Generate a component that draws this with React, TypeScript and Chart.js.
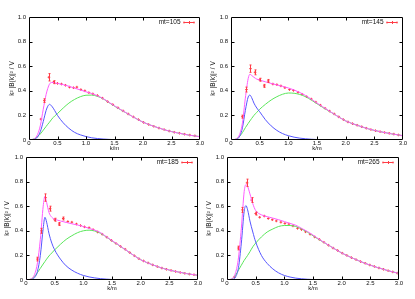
import React, { useEffect, useRef } from "react";
import { Chart, registerables } from "chart.js";

Chart.register(...registerables);

const FONT = '"Liberation Sans", Arial, Helvetica, sans-serif';
Chart.defaults.font.family = FONT;

// ---- axes ----
const X_TICKS = [0, 0.5, 1, 1.5, 2, 2.5, 3];
const Y_TICKS = [0, 0.2, 0.4, 0.6, 0.8, 1];
const X_TITLE = "k/m";
const Y_TITLE = "k² |B(k)|² / V";
const LABELS = ["mt=105", "mt=145", "mt=185", "mt=265"];

// momentum grid for the curves
const K = [0, 0.1, 0.15, 0.2, 0.25, 0.3, 0.33, 0.36, 0.4, 0.45, 0.5, 0.6, 0.7, 0.8, 0.9, 1.0, 1.1, 1.2, 1.3, 1.4, 1.5, 1.6, 1.8, 2.0, 2.2, 2.4, 2.6, 2.8, 3.0];

// ---- mt = 105 ----
const BLUE_105 = [0, 0.005, 0.025, 0.07, 0.15, 0.24, 0.275, 0.29, 0.275, 0.24, 0.2, 0.14, 0.095, 0.062, 0.042, 0.028, 0.018, 0.012, 0.008, 0.005, 0.003, 0.002];
const GREEN_105 = [0, 0.01, 0.027, 0.05, 0.08, 0.11, 0.128, 0.145, 0.17, 0.195, 0.215, 0.26, 0.3, 0.33, 0.352, 0.364, 0.365, 0.355, 0.335, 0.305, 0.275, 0.248, 0.195, 0.145, 0.11, 0.08, 0.058, 0.04, 0.027];
const FIT_105 = [0, 0.012, 0.045, 0.12, 0.25, 0.37, 0.42, 0.455, 0.468, 0.465, 0.46, 0.45, 0.437, 0.422, 0.407, 0.392, 0.378, 0.36, 0.337, 0.307, 0.278, 0.25, 0.195, 0.145, 0.11, 0.08, 0.058, 0.04, 0.027];
const KP_105 = [0.21, 0.27, 0.35, 0.43, 0.5, 0.57, 0.64, 0.71, 0.78, 0.84, 0.91, 0.98, 1.05, 1.12, 1.2, 1.29, 1.38, 1.47, 1.56, 1.65, 1.74, 1.83, 1.92, 2.01, 2.1, 2.19, 2.28, 2.37, 2.46, 2.55, 2.64, 2.73, 2.82, 2.91, 3.0];
const VP_105 = [0.17, 0.32, 0.51, 0.47, 0.46, 0.455, 0.445, 0.43, 0.425, 0.43, 0.41, 0.4, 0.385, 0.375, 0.362, 0.34, 0.312, 0.288, 0.262, 0.237, 0.212, 0.188, 0.166, 0.143, 0.126, 0.111, 0.097, 0.085, 0.073, 0.063, 0.055, 0.047, 0.04, 0.034, 0.028];
const EP_105 = [0.01, 0.015, 0.03, 0.012, 0.01, 0.008, 0.008, 0.008, 0.007, 0.008, 0.007, 0.006, 0.006, 0.006, 0.005, 0.005, 0.005, 0.005, 0.004, 0.004, 0.004, 0.004, 0.003, 0.003, 0.003, 0.003, 0.003, 0.003, 0.002, 0.002, 0.002, 0.002, 0.002, 0.002, 0.002];

// ---- mt = 145 ----
const BLUE_145 = [0, 0.005, 0.03, 0.1, 0.24, 0.35, 0.365, 0.345, 0.3, 0.26, 0.23, 0.165, 0.115, 0.078, 0.052, 0.035, 0.023, 0.015, 0.01, 0.006, 0.004, 0.002];
const GREEN_145 = [0, 0.01, 0.03, 0.06, 0.1, 0.135, 0.155, 0.175, 0.2, 0.225, 0.25, 0.29, 0.325, 0.352, 0.372, 0.382, 0.38, 0.37, 0.352, 0.325, 0.295, 0.265, 0.21, 0.155, 0.12, 0.09, 0.068, 0.05, 0.035];
const FIT_145 = [0, 0.012, 0.045, 0.14, 0.34, 0.5, 0.535, 0.525, 0.51, 0.495, 0.487, 0.473, 0.46, 0.448, 0.436, 0.423, 0.407, 0.386, 0.362, 0.332, 0.3, 0.27, 0.21, 0.155, 0.12, 0.09, 0.068, 0.05, 0.035];
const KP_145 = [0.2, 0.27, 0.34, 0.42, 0.5, 0.58, 0.65, 0.73, 0.8, 0.87, 0.94, 1.02, 1.09, 1.17, 1.24, 1.32, 1.4, 1.48, 1.56, 1.64, 1.72, 1.8, 1.88, 1.96, 2.04, 2.12, 2.2, 2.28, 2.36, 2.44, 2.52, 2.6, 2.68, 2.76, 2.84, 2.92, 3.0];
const VP_145 = [0.19, 0.41, 0.58, 0.55, 0.49, 0.44, 0.48, 0.455, 0.45, 0.44, 0.425, 0.41, 0.403, 0.388, 0.372, 0.352, 0.333, 0.308, 0.283, 0.258, 0.235, 0.212, 0.188, 0.166, 0.147, 0.133, 0.12, 0.108, 0.096, 0.085, 0.076, 0.068, 0.061, 0.054, 0.048, 0.041, 0.035];
const EP_145 = [0.012, 0.02, 0.03, 0.02, 0.012, 0.012, 0.012, 0.008, 0.008, 0.007, 0.007, 0.006, 0.006, 0.006, 0.006, 0.006, 0.005, 0.005, 0.005, 0.004, 0.004, 0.004, 0.004, 0.003, 0.003, 0.003, 0.003, 0.003, 0.003, 0.002, 0.002, 0.002, 0.002, 0.002, 0.002, 0.002, 0.002];

// ---- mt = 185 ----
const BLUE_185 = [0, 0.004, 0.02, 0.07, 0.2, 0.42, 0.51, 0.47, 0.38, 0.3, 0.245, 0.17, 0.115, 0.08, 0.055, 0.037, 0.025, 0.017, 0.011, 0.007, 0.004, 0.002];
const GREEN_185 = [0, 0.01, 0.03, 0.06, 0.095, 0.13, 0.15, 0.17, 0.195, 0.22, 0.245, 0.29, 0.33, 0.36, 0.385, 0.4, 0.405, 0.398, 0.38, 0.35, 0.318, 0.288, 0.225, 0.165, 0.125, 0.093, 0.07, 0.052, 0.038];
const FIT_185 = [0, 0.012, 0.045, 0.14, 0.33, 0.6, 0.68, 0.63, 0.55, 0.51, 0.495, 0.48, 0.468, 0.457, 0.447, 0.435, 0.42, 0.405, 0.385, 0.352, 0.32, 0.29, 0.225, 0.165, 0.125, 0.093, 0.07, 0.052, 0.038];
const KP_185 = [0.2, 0.27, 0.34, 0.42, 0.5, 0.58, 0.65, 0.73, 0.8, 0.88, 0.95, 1.02, 1.1, 1.17, 1.25, 1.33, 1.41, 1.49, 1.57, 1.65, 1.73, 1.81, 1.89, 1.97, 2.05, 2.13, 2.21, 2.29, 2.37, 2.45, 2.53, 2.61, 2.69, 2.77, 2.85, 2.93, 3.0];
const VP_185 = [0.17, 0.4, 0.67, 0.58, 0.49, 0.455, 0.5, 0.475, 0.47, 0.455, 0.443, 0.432, 0.425, 0.41, 0.39, 0.372, 0.348, 0.322, 0.297, 0.273, 0.25, 0.223, 0.197, 0.173, 0.155, 0.139, 0.123, 0.109, 0.097, 0.087, 0.078, 0.069, 0.061, 0.054, 0.048, 0.043, 0.038];
const EP_185 = [0.015, 0.02, 0.03, 0.02, 0.012, 0.012, 0.012, 0.008, 0.008, 0.007, 0.007, 0.006, 0.006, 0.006, 0.006, 0.006, 0.005, 0.005, 0.005, 0.004, 0.004, 0.004, 0.004, 0.003, 0.003, 0.003, 0.003, 0.003, 0.003, 0.002, 0.002, 0.002, 0.002, 0.002, 0.002, 0.002, 0.002];

// ---- mt = 265 ----
const BLUE_265 = [0, 0.005, 0.025, 0.1, 0.3, 0.56, 0.605, 0.57, 0.48, 0.39, 0.31, 0.2, 0.135, 0.09, 0.058, 0.037, 0.024, 0.015, 0.01, 0.006, 0.004];
const GREEN_265 = [0, 0.012, 0.04, 0.08, 0.12, 0.16, 0.18, 0.2, 0.23, 0.27, 0.3, 0.35, 0.39, 0.415, 0.435, 0.443, 0.443, 0.435, 0.415, 0.39, 0.36, 0.33, 0.275, 0.22, 0.176, 0.137, 0.105, 0.077, 0.053];
const FIT_265 = [0, 0.015, 0.06, 0.18, 0.42, 0.72, 0.775, 0.76, 0.7, 0.62, 0.565, 0.53, 0.515, 0.503, 0.49, 0.475, 0.46, 0.445, 0.42, 0.395, 0.365, 0.333, 0.275, 0.22, 0.176, 0.137, 0.105, 0.077, 0.053];
const KP_265 = [0.13, 0.2, 0.27, 0.35, 0.43, 0.5, 0.57, 0.65, 0.72, 0.79, 0.86, 0.94, 1.01, 1.08, 1.15, 1.23, 1.3, 1.37, 1.45, 1.53, 1.61, 1.69, 1.77, 1.85, 1.93, 2.01, 2.09, 2.17, 2.25, 2.33, 2.41, 2.49, 2.57, 2.65, 2.73, 2.81, 2.89, 2.97];
const VP_265 = [0.025, 0.26, 0.57, 0.79, 0.65, 0.54, 0.51, 0.52, 0.5, 0.49, 0.48, 0.47, 0.46, 0.455, 0.44, 0.42, 0.41, 0.392, 0.372, 0.35, 0.33, 0.307, 0.283, 0.26, 0.24, 0.218, 0.2, 0.182, 0.166, 0.15, 0.136, 0.122, 0.11, 0.098, 0.087, 0.076, 0.066, 0.056];
const EP_265 = [0.008, 0.015, 0.02, 0.03, 0.02, 0.012, 0.01, 0.01, 0.008, 0.008, 0.007, 0.007, 0.006, 0.006, 0.006, 0.006, 0.005, 0.005, 0.005, 0.005, 0.004, 0.004, 0.004, 0.004, 0.003, 0.003, 0.003, 0.003, 0.003, 0.003, 0.003, 0.002, 0.002, 0.002, 0.002, 0.002, 0.002, 0.002];

// ---- styles ----
const C_FIT = "rgb(255,90,255)";
const C_BLUE = "rgb(85,85,255)";
const C_GREEN = "rgb(90,230,90)";
const C_PTS = "rgb(255,60,70)";
const C_TEXT = "#111";

type Layout = { left: number; top: number; w: number; h: number; pl: number; pr: number; pt: number; pb: number; yw: number; xh: number; ytp: number };

const PANELS: { label: string; blue: number[]; green: number[]; fit: number[]; kp: number[]; vp: number[]; ep: number[]; lay: Layout }[] = [
  { label: LABELS[0], blue: BLUE_105, green: GREEN_105, fit: FIT_105, kp: KP_105, vp: VP_105, ep: EP_105,
    lay: { left: 0, top: 0, w: 207, h: 153, pl: 0, pr: 7, pt: 17, pb: 1, yw: 29, xh: 12, ytp: 8 } },
  { label: LABELS[1], blue: BLUE_145, green: GREEN_145, fit: FIT_145, kp: KP_145, vp: VP_145, ep: EP_145,
    lay: { left: 207, top: 0, w: 208, h: 153, pl: 0, pr: 12, pt: 17, pb: 1, yw: 24, xh: 12, ytp: 2.4 } },
  { label: LABELS[2], blue: BLUE_185, green: GREEN_185, fit: FIT_185, kp: KP_185, vp: VP_185, ep: EP_185,
    lay: { left: 0, top: 150, w: 207, h: 149, pl: 0, pr: 9, pt: 7, pb: 7, yw: 26, xh: 12, ytp: 3.4 } },
  { label: LABELS[3], blue: BLUE_265, green: GREEN_265, fit: FIT_265, kp: KP_265, vp: VP_265, ep: EP_265,
    lay: { left: 203, top: 150, w: 212, h: 149, pl: 0, pr: 16, pt: 7, pb: 7, yw: 24, xh: 12, ytp: 2 } },
];

const gnuplotFrame = {
  id: "gnuplotFrame",
  afterDatasetsDraw(chart: any, _args: any, opts: any) {
    const { ctx, chartArea: a, scales } = chart;
    const xs = scales.x;
    const ys = scales.y;
    ctx.save();
    // error bars from the points dataset
    const pts = chart.data.datasets[3].data as { x: number; y: number; e: number }[];
    ctx.strokeStyle = C_PTS;
    ctx.lineWidth = 1;
    ctx.beginPath();
    pts.forEach((p) => {
      const px = Math.round(xs.getPixelForValue(p.x)) + 0.5;
      const y1 = ys.getPixelForValue(p.y - p.e);
      const y2 = ys.getPixelForValue(p.y + p.e);
      if (y1 - y2 < 2.5) return;
      ctx.moveTo(px, y1);
      ctx.lineTo(px, y2);
      ctx.moveTo(px - 1, y1);
      ctx.lineTo(px + 1, y1);
      ctx.moveTo(px - 1, y2);
      ctx.lineTo(px + 1, y2);
    });
    ctx.stroke();

    // border
    const L = Math.round(a.left) + 0.5;
    const R = Math.round(a.right) - 0.5;
    const T = Math.round(a.top) + 0.5;
    const B = Math.round(a.bottom) - 0.5;

    // key geometry
    const ky = T + 4.5;
    ctx.font = `6.5px ${FONT}`;
    const textRight = R - 19;
    const textLeft = textRight - ctx.measureText(opts.label).width;

    ctx.strokeStyle = "#000";
    ctx.beginPath();
    ctx.rect(L, T, R - L, B - T);
    const tl = 3;
    X_TICKS.forEach((v) => {
      const px = Math.round(xs.getPixelForValue(v)) + 0.5;
      if (px <= L + 1 || px >= R - 1) return;
      ctx.moveTo(px, B);
      ctx.lineTo(px, B - tl);
      if (px < textLeft - 1 || px > textRight + 1) {
        ctx.moveTo(px, T);
        ctx.lineTo(px, T + tl);
      }
    });
    Y_TICKS.forEach((v) => {
      const py = Math.round(ys.getPixelForValue(v)) + 0.5;
      if (py <= T + 1 || py >= B - 1) return;
      ctx.moveTo(L, py);
      ctx.lineTo(L + tl, py);
      ctx.moveTo(R, py);
      ctx.lineTo(R - tl, py);
    });
    ctx.stroke();

    // key (top right, gnuplot style: text then sample)
    ctx.fillStyle = C_TEXT;
    ctx.textAlign = "right";
    ctx.textBaseline = "middle";
    ctx.fillText(opts.label, textRight, ky);
    ctx.strokeStyle = C_PTS;
    ctx.beginPath();
    const s0 = R - 16;
    const s1 = R - 5;
    const ly = Math.round(ky) + 0.5;
    ctx.moveTo(s0, ly);
    ctx.lineTo(s1, ly);
    ctx.moveTo(s0 + 0.5, ly - 1);
    ctx.lineTo(s0 + 0.5, ly + 1);
    ctx.moveTo(s1 - 0.5, ly - 1);
    ctx.lineTo(s1 - 0.5, ly + 1);
    const mid = Math.round((s0 + s1) / 2) + 0.5;
    ctx.moveTo(mid, ly - 1.5);
    ctx.lineTo(mid, ly + 1.5);
    ctx.stroke();
    ctx.restore();
  },
};

function curve(ys: number[]) {
  return ys.map((y, i) => ({ x: K[i], y }));
}

function Panel({ idx }: { idx: number }) {
  const ref = useRef<HTMLCanvasElement | null>(null);
  const p = PANELS[idx];
  const lay = p.lay;
  useEffect(() => {
    if (!ref.current) return;
    const lineDs = (data: number[], color: string) => ({
      data: curve(data),
      showLine: true,
      borderColor: color,
      backgroundColor: color,
      borderWidth: 1,
      pointRadius: 0,
      cubicInterpolationMode: "monotone" as const,
      fill: false,
    });
    const chart = new Chart(ref.current, {
      type: "scatter",
      data: {
        datasets: [
          lineDs(p.fit, C_FIT),
          lineDs(p.blue, C_BLUE),
          lineDs(p.green, C_GREEN),
          {
            data: p.kp.map((x, i) => ({ x, y: p.vp[i], e: p.ep[i] })),
            showLine: false,
            pointStyle: "cross",
            pointRadius: 1.3,
            borderColor: C_PTS,
            backgroundColor: C_PTS,
            borderWidth: 1,
          } as any,
        ],
      },
      options: {
        animation: false,
        responsive: false,
        devicePixelRatio: 1,
        layout: { padding: { left: lay.pl, right: lay.pr, top: lay.pt, bottom: lay.pb } },
        plugins: {
          legend: { display: false },
          tooltip: { enabled: false },
          gnuplotFrame: { label: p.label },
        } as any,
        scales: {
          x: {
            type: "linear",
            min: 0,
            max: 3,
            afterBuildTicks: (s: any) => {
              s.ticks = X_TICKS.map((v) => ({ value: v }));
            },
            ticks: { padding: 0, font: { size: 6 }, color: C_TEXT, maxRotation: 0, autoSkip: false },
            grid: { display: false, drawTicks: false },
            border: { display: false },
            title: { display: true, text: X_TITLE, font: { size: 6 }, color: C_TEXT, padding: { top: 0, bottom: 0 } },
            afterFit: (s: any) => {
              s.height = lay.xh;
            },
          },
          y: {
            type: "linear",
            min: 0,
            max: 1,
            afterBuildTicks: (s: any) => {
              s.ticks = Y_TICKS.map((v) => ({ value: v }));
            },
            ticks: { padding: 3, font: { size: 6 }, color: C_TEXT, autoSkip: false },
            grid: { display: false, drawTicks: false },
            border: { display: false },
            title: { display: true, text: Y_TITLE, font: { size: 6.5 }, color: C_TEXT, padding: { top: lay.ytp, bottom: 0 } },
            afterFit: (s: any) => {
              s.width = lay.yw;
            },
          },
        },
      },
      plugins: [gnuplotFrame],
    });
    return () => chart.destroy();
  }, [idx]);
  return (
    <canvas
      ref={ref}
      width={lay.w}
      height={lay.h}
      style={{ position: "absolute", left: lay.left, top: lay.top, width: lay.w, height: lay.h }}
    />
  );
}

export default function App() {
  return (
    <div style={{ position: "absolute", left: 0, top: 0, width: 415, height: 299, background: "#fff", overflow: "hidden" }}>
      {PANELS.map((_, i) => (
        <Panel key={i} idx={i} />
      ))}
    </div>
  );
}
